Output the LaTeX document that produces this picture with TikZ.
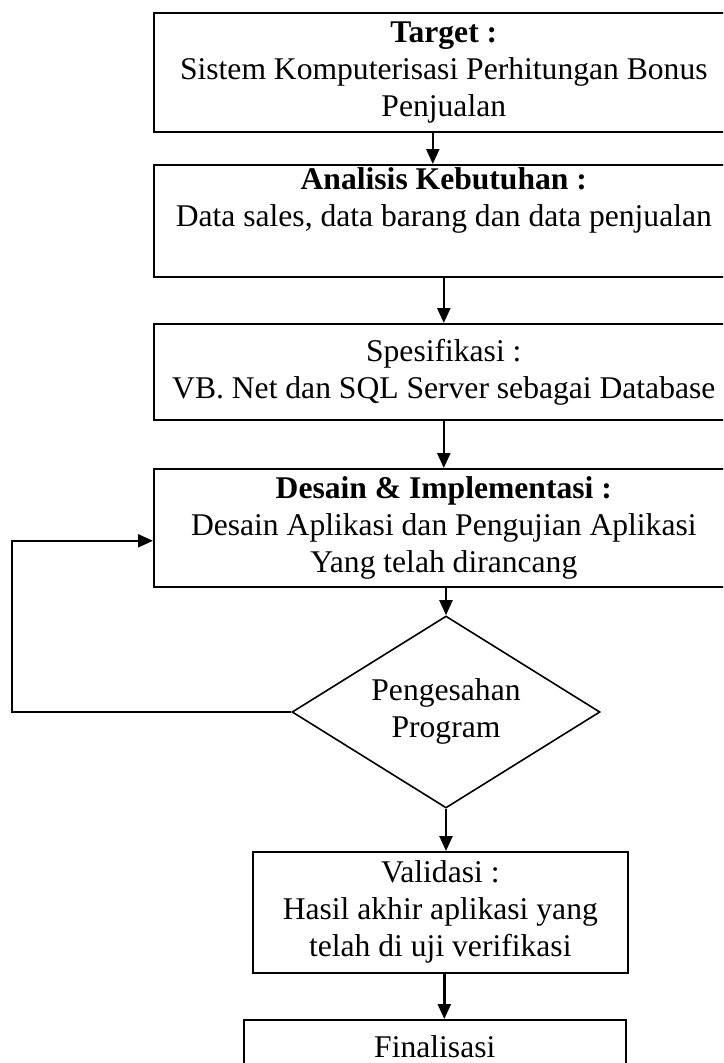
\documentclass[tikz,border=0pt]{standalone}
\usepackage{fontspec}
\setmainfont{Liberation Serif}
\usetikzlibrary{shapes.geometric,arrows.meta}

\begin{document}
\begin{tikzpicture}[x=1pt,y=-1pt,
        tahap/.style={draw, line width=1.6pt, rectangle, anchor=north west, align=center, inner sep=2pt,
            font=\fontsize{31.6pt}{37pt}\selectfont},
        cek/.style={draw, line width=1.6pt, diamond, aspect=1.6, align=center, inner sep=0pt,
            minimum width=308pt, minimum height=192pt, font=\fontsize{31.6pt}{37pt}\selectfont},
        panah/.style={-{Triangle[length=15pt,width=13pt]}, line width=2.4pt}]

        \useasboundingbox (0,0) rectangle (723,1063);
        \clip (0,0) rectangle (723,1063);

        \node[tahap, minimum width=580pt, minimum height=119pt] (target) at (153,12)
            {\textbf{Target :}\\Sistem Komputerisasi Perhitungan Bonus\\Penjualan};
        \node[tahap, minimum width=580pt, minimum height=112pt] (analisis) at (153,164)
            {\textbf{Analisis Kebutuhan :}\\Data sales, data barang dan data penjualan\\ \strut};
        \node[tahap, minimum width=580pt, minimum height=96pt] (spesifikasi) at (153,323)
            {Spesifikasi :\\VB. Net dan SQL Server sebagai Database};
        \node[tahap, minimum width=580pt, minimum height=118pt] (desain) at (153,468)
            {\textbf{Desain \& Implementasi :}\\Desain Aplikasi dan Pengujian Aplikasi\\Yang telah dirancang};
        \node[cek] (sah) at (446,712)
            {\raisebox{9pt}{\begin{tabular}{@{}c@{}}Pengesahan\\Program\end{tabular}}};
        \node[tahap, minimum width=375pt, minimum height=121pt] (validasi) at (252,851)
            {Validasi :\\Hasil akhir aplikasi yang\\telah di uji verifikasi};
        \node[tahap, minimum width=382pt, minimum height=54pt] (final) at (243,1019) {Finalisasi};

        \coordinate (balik) at (12,712);

        \draw[panah] ([xshift=-11pt]target.south) -- ([xshift=-11pt]analisis.north);
        \draw[panah] (analisis.south) -- (spesifikasi.north);
        \draw[panah] (spesifikasi.south) -- (desain.north);
        \draw[panah] (desain.south -| sah.north) -- (sah.north);
        \draw[panah] (sah.south) -- (sah.south |- validasi.north);
        \draw[panah] ([xshift=4pt]validasi.south) -- ([xshift=4pt]validasi.south |- final.north);
        \draw[panah, line width=2pt] (sah.west) -- (balik) |- ([yshift=-13pt]desain.west);
    \end{tikzpicture}
\end{document}
